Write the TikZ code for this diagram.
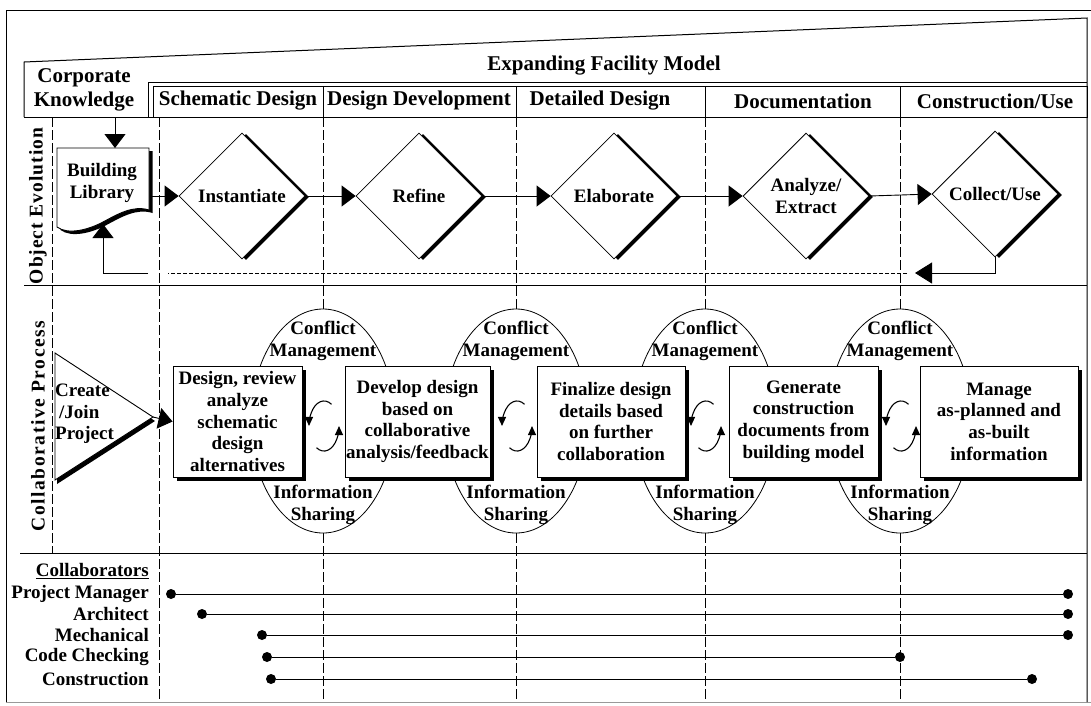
\documentclass[tikz,border=0pt]{standalone}
\usepackage{fontspec}
\setmainfont{Liberation Serif}
\usetikzlibrary{arrows.meta,shapes.geometric,shadows}
\begin{document}
\begin{tikzpicture}[x=1pt,y=-1pt,
  every node/.style={font=\bfseries\fontsize{19}{21.7}\selectfont,inner sep=0pt,align=center},
  hdr/.style={font=\bfseries\fontsize{21}{23.5}\selectfont},
  rowlbl/.style={rotate=90,font=\bfseries\fontsize{19.5}{22}\selectfont\addfontfeature{LetterSpace=8}},
  rowlblb/.style={rotate=90,font=\bfseries\fontsize{19.5}{22}\selectfont\addfontfeature{LetterSpace=5}},
  frameline/.style={line width=1pt},
  gridline/.style={line width=0.9pt},
  vdash/.style={line width=0.7pt,dash pattern=on 10pt off 3pt},
  hdash/.style={line width=0.8pt,dash pattern=on 4pt off 2pt},
  tri/.style={line width=0.9pt,-{Triangle[length=14pt,width=21pt]}},
  dia/.style={diamond,draw,line width=0.8pt,fill=white,minimum width=126pt,minimum height=126pt,
    drop shadow={shadow xshift=4pt,shadow yshift=-1pt,opacity=1,fill=black}},
  box/.style={rectangle,draw,line width=0.9pt,fill=white,minimum height=111pt,
    drop shadow={shadow xshift=3.5pt,shadow yshift=-3.5pt,opacity=1,fill=black}},
  oval/.style={ellipse,draw,line width=0.8pt,fill=white,minimum width=144pt,minimum height=224pt},
  cyc/.style={line width=1.1pt,-{Triangle[length=9pt,width=8pt]}},
  dot/.style={circle,fill=black,minimum size=10pt,inner sep=0pt},
  collab/.style={line width=1pt},
  lbl/.style={anchor=east},
]
\useasboundingbox (0,0) rectangle (1091,705);

% outer frame
\draw[frameline] (1095,10) -- (6,10) -- (6,702);
\draw[line width=0.6pt,black!40] (6,702) -- (1095,702);

% expanding facility model / header
\draw[frameline] (24,117) -- (24,62) -- (1087,18) -- (1087,702);
\draw[frameline] (148,117) -- (148,82) -- (1087,82);
\draw[frameline] (153,86) rectangle (1087,117);
\draw[frameline] (24,117) -- (153,117);
\foreach \x in {323,516,705,900} \draw[gridline] (\x,86) -- (\x,117);

\node[hdr] (corp) at (84,90) {Corporate\\Knowledge};
\node[hdr] (efm) at (604,66) {Expanding Facility Model};
\node[hdr] (h1) at (238,101) {Schematic Design};
\node[hdr] (h2) at (419,101) {Design Development};
\node[hdr] (h3) at (600,101) {Detailed Design};
\node[hdr] (h4) at (803,101) {Documentation};
\node[hdr] (h5) at (995,101) {Construction/Use};

% row separators
\draw[gridline] (24,285) -- (1087,285);
\draw[gridline] (20,553) -- (1087,553);
\draw[vdash] (52,117) -- (52,553);
\foreach \x in {159,323,516,705,900} \draw[vdash] (\x,117) -- (\x,700);

\node[rowlblb] (rowA) at (38,206) {Object Evolution};
\node[rowlbl] (rowB) at (38,426) {Collaborative Process};

% ---------- object evolution ----------
\coordinate (corpS) at (115,117);
\coordinate (libN) at (115,148);
\coordinate (libE) at (150,196);
\coordinate (libS) at (103,224);
\fill[black] ([shift={(3.5,3)}]57,148) -- ([shift={(3.5,3)}]149,148) -- ([shift={(3.5,3)}]149,210)
  .. controls ([shift={(3.5,3)}]133,205) and ([shift={(3.5,3)}]118,214) .. ([shift={(3.5,3)}]103,222)
  .. controls ([shift={(3.5,3)}]88,230) and ([shift={(3.5,3)}]68,235) .. ([shift={(3.5,3)}]57,227) -- cycle;
\draw[line width=0.9pt,fill=white] (57,148) -- (149,148) -- (149,210)
  .. controls (133,205) and (118,214) .. (103,222)
  .. controls (88,230) and (68,235) .. (57,227) -- cycle;
\node (lib) at (102,183) {Building\\Library};
\draw[tri] (corpS) -- (libN);

\node[dia] (d1) at (242,196) {Instantiate};
\node[dia] (d2) at (419,196) {Refine};
\node[dia] (d3) at (614,196) {Elaborate};
\node[dia] (d4) at (806,196) {Analyze/\\Extract};
\node[dia] (d5) at (995,194) {Collect/Use};

\draw[tri] (libE) -- (d1.west);
\draw[tri] (d1.east) -- (d2.west);
\draw[tri] (d2.east) -- (d3.west);
\draw[tri] (d3.east) -- (d4.west);
\draw[tri] (d4.east) -- (d5.west);

\coordinate (retA) at (915,273);
\coordinate (retC) at (907,273);
\coordinate (retD) at (168,273);
\coordinate (retB) at (148,273);
\draw[line width=0.9pt,-{Triangle[length=17pt,width=21pt]}] (d5.south) |- (retA);
\draw[hdash] (retC) -- (retD);
\draw[tri] (retB) -| (libS);

% ---------- collaborative process ----------
\node[oval] (e1) at (323,421) {};
\node[oval] (e2) at (516,421) {};
\node[oval] (e3) at (705,421) {};
\node[oval] (e4) at (900,421) {};
\foreach \n/\x in {1/323,2/516,3/705,4/900}{
  \node (cm\n) at (\x,341) {Conflict\\Management};
  \node (is\n) at (\x,505) {Information\\Sharing};
}

\fill[black] (57,357) -- (155,421) -- (57,484) -- cycle;
\draw[line width=0.9pt,fill=white] (55,353) -- (153,417) -- (55,480) -- cycle;
\coordinate (triTip) at (153,417);
\node[anchor=west,align=left] (cj) at (55,414) {Create\\\hspace{4pt}/Join\\Project};

\node[box,minimum width=129pt] (b1) at (237.5,421.5) {Design, review\\analyze\\schematic\\design\\alternatives};
\node[box,minimum width=145pt] (b2) at (417.5,421.5) {Develop design\\based on\\collaborative\\analysis/feedback};
\node[box,minimum width=148pt] (b3) at (611,421.5) {Finalize design\\details based\\on further\\collaboration};
\node[box,minimum width=149pt] (b4) at (803.5,421.5) {Generate\\construction\\documents from\\building model};
\node[box,minimum width=158pt] (b5) at (999,421.5) {Manage\\as-planned and\\as-built\\information};

\draw[tri] (triTip) -- (b1.west);

\foreach \n/\x in {1/324,2/517,3/706,4/901}{
  \coordinate (cc\n) at (\x,426);
  \draw[cyc] ({\x+7.5},404.3) arc[start angle=60,end angle=180,x radius=15pt,y radius=25pt];
  \draw[cyc] ({\x-7.5},447.7) arc[start angle=240,end angle=360,x radius=15pt,y radius=25pt];
}

% ---------- collaborators ----------
\node[lbl] (colT) at (149,571) {\underline{Collaborators}};
\node[lbl] (pm) at (149,594) {Project Manager};
\node[lbl] (ar) at (149,614) {Architect};
\node[lbl] (me) at (149,635) {Mechanical};
\node[lbl] (ck) at (149,657) {Code Checking};
\node[lbl] (co) at (149,679) {Construction};

\node[dot] (pmA) at (171,594) {};
\node[dot] (pmB) at (1068,594) {};
\node[dot] (arA) at (202,614) {};
\node[dot] (arB) at (1068,614) {};
\node[dot] (meA) at (262,635) {};
\node[dot] (meB) at (1068,635) {};
\node[dot] (ckA) at (267,657) {};
\node[dot] (ckB) at (900,657) {};
\node[dot] (coA) at (271,679) {};
\node[dot] (coB) at (1032,679) {};
\draw[collab] (pmA) -- (pmB);
\draw[collab] (arA) -- (arB);
\draw[collab] (meA) -- (meB);
\draw[collab] (ckA) -- (ckB);
\draw[collab] (coA) -- (coB);
\end{tikzpicture}
\end{document}
